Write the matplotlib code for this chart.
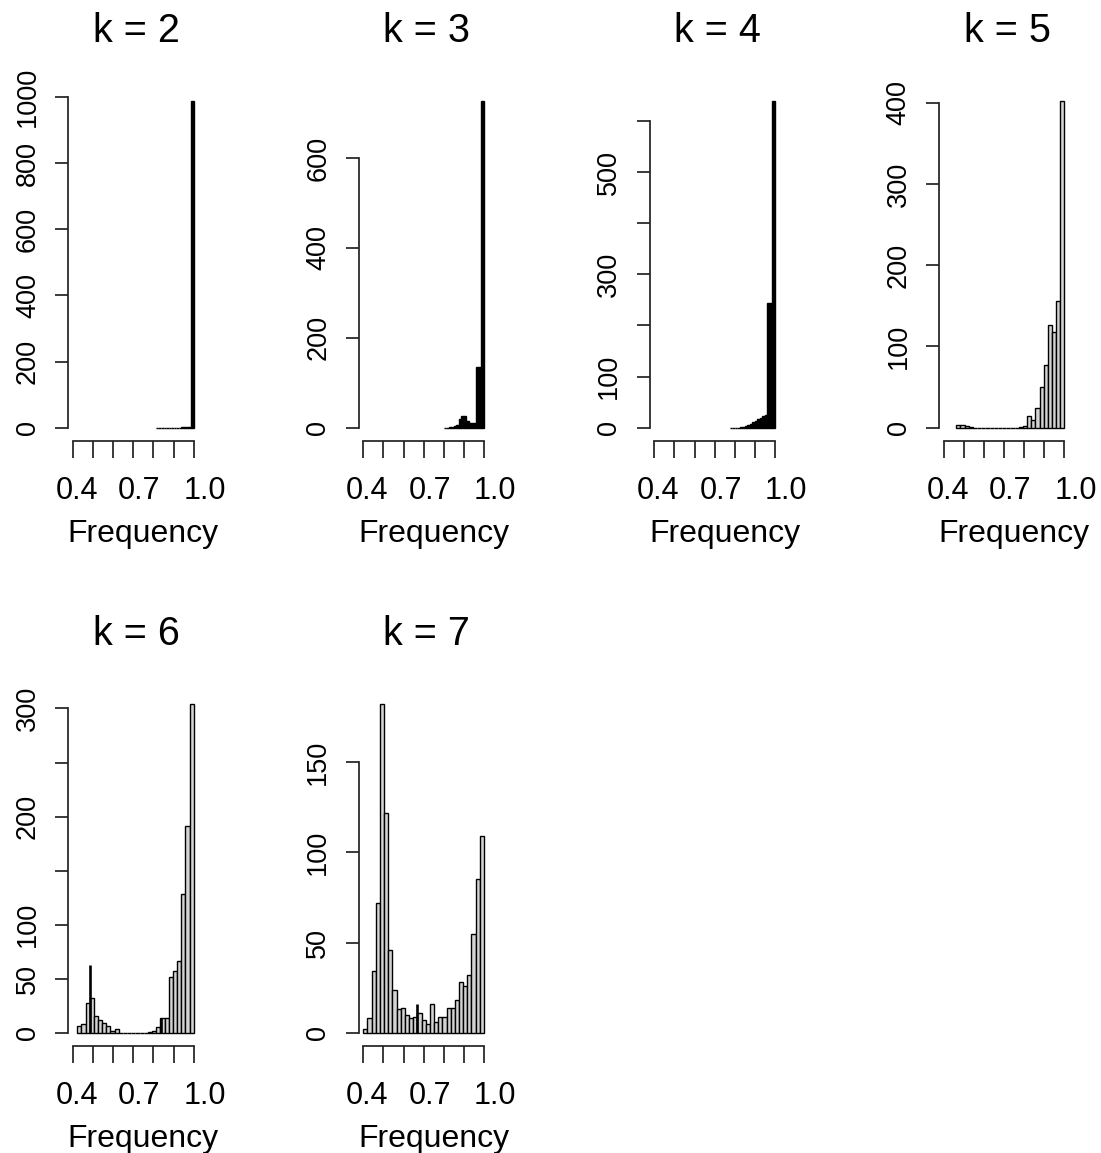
import numpy as np
import matplotlib
matplotlib.use("Agg")
import matplotlib.pyplot as plt
from matplotlib.transforms import ScaledTranslation

plt.rcParams['font.family'] = ['Liberation Sans', 'DejaVu Sans']

# ---------------- data ----------------
titles = ['k = 2', 'k = 3', 'k = 4', 'k = 5', 'k = 6', 'k = 7']
x_label = 'Frequency'

fine_width = 0.0125          # narrow bins used for k = 2, 3, 4
coarse_width = 0.6 / 29      # bins used for k = 5, 6, 7

k2_first_edge = 0.8125
k2_counts = [0, 0, 0, 0, 0, 0, 0, 0, 0, 0, 1, 1, 2, 3, 988]

k3_first_edge = 0.8
k3_counts = [0, 0, 1, 1, 4, 7, 20, 26, 26, 14, 11, 10, 10, 135, 135, 727]

k4_first_edge = 0.775
k4_counts = [0, 0, 0, 0, 1, 1, 3, 5, 8, 11, 14, 17, 20, 23, 25, 244, 244, 639]

k5_first_edge = 0.4 + 3 * coarse_width
k5_counts = [3, 3, 2, 1, 0, 0, 0, 0, 0, 0, 0, 0, 0, 0, 0, 1, 2,
             14, 10, 24, 50, 77, 126, 118, 156, 402]

k6_first_edge = 0.4 + 1 * coarse_width
k6_counts = [6, 8, 28, 32, 16, 12, 9, 6, 2, 4, 0, 0, 0, 0, 0, 0, 0,
             1, 2, 5, 14, 14, 52, 57, 66, 128, 191, 304]
k6_spike_x = [0.486, 0.836]
k6_spike_h = [63, 14]

k7_first_edge = 0.4
k7_counts = [2, 8, 34, 72, 182, 122, 46, 24, 13, 14, 10, 8, 9, 11, 7, 5, 16,
             6, 9, 9, 14, 14, 18, 28, 26, 32, 55, 85, 109]
k7_spike_x = [0.669]
k7_spike_h = [16]

x_ticks = [0.4, 0.5, 0.6, 0.7, 0.8, 0.9, 1.0]
x_tick_labels = ['0.4', '', '', '0.7', '', '', '1.0']

k2_yticks = [0, 200, 400, 600, 800, 1000]
k2_ylabels = ['0', '200', '400', '600', '800', '1000']
k3_yticks = [0, 200, 400, 600]
k3_ylabels = ['0', '200', '400', '600']
k4_yticks = [0, 100, 200, 300, 400, 500, 600]
k4_ylabels = ['0', '100', '', '300', '', '500', '']
k5_yticks = [0, 100, 200, 300, 400]
k5_ylabels = ['0', '100', '200', '300', '400']
k6_yticks = [0, 50, 100, 150, 200, 250, 300]
k6_ylabels = ['0', '50', '100', '', '200', '', '300']
k7_yticks = [0, 50, 100, 150]
k7_ylabels = ['0', '50', '100', '150']

panels = [
    dict(title=titles[0], lo=k2_first_edge, w=fine_width, counts=k2_counts,
         sx=[], sh=[], yt=k2_yticks, yl=k2_ylabels, fc='black'),
    dict(title=titles[1], lo=k3_first_edge, w=fine_width, counts=k3_counts,
         sx=[], sh=[], yt=k3_yticks, yl=k3_ylabels, fc='black'),
    dict(title=titles[2], lo=k4_first_edge, w=fine_width, counts=k4_counts,
         sx=[], sh=[], yt=k4_yticks, yl=k4_ylabels, fc='black'),
    dict(title=titles[3], lo=k5_first_edge, w=coarse_width, counts=k5_counts,
         sx=[], sh=[], yt=k5_yticks, yl=k5_ylabels, fc='#D3D3D3'),
    dict(title=titles[4], lo=k6_first_edge, w=coarse_width, counts=k6_counts,
         sx=k6_spike_x, sh=k6_spike_h, yt=k6_yticks, yl=k6_ylabels, fc='#D3D3D3'),
    dict(title=titles[5], lo=k7_first_edge, w=coarse_width, counts=k7_counts,
         sx=k7_spike_x, sh=k7_spike_h, yt=k7_yticks, yl=k7_ylabels, fc='#D3D3D3'),
]

# ---------------- layout (pixels) ----------------
W, H, DPI = 1101, 1153, 100
col_left = [68.2, 358.5, 649.5, 939.0]
col_w = 130.3
row_top = [88.0, 691.0]
row_h = [352.8, 355.0]
grid_pos = [(0, 0), (0, 1), (0, 2), (0, 3), (1, 0), (1, 1)]

fig = plt.figure(figsize=(W / DPI, H / DPI), dpi=DPI)
fig.patch.set_facecolor('white')

px2pt = 72.0 / DPI
xlab_offsets_px = [4, 6, 11]
axis_lw = 1.25

for p, (r, c) in zip(panels, grid_pos):
    l, t, h = col_left[c], row_top[r], row_h[r]
    ax = fig.add_axes([l / W, 1 - (t + h) / H, col_w / W, h / H])
    counts = np.asarray(p['counts'], dtype=float)
    edges = p['lo'] + p['w'] * np.arange(len(counts))
    ax.bar(edges, counts, width=p['w'], align='edge', facecolor=p['fc'],
           edgecolor='black', linewidth=1.0)
    if p['sx']:
        ax.vlines(p['sx'], 0, p['sh'], color='black', linewidth=1.9)
    m = counts.max()
    ax.set_xlim(0.376, 1.024)
    ax.set_ylim(-0.04 * m, 1.04 * m)

    for s in ['top', 'right']:
        ax.spines[s].set_visible(False)
    ax.spines['left'].set_bounds(p['yt'][0], p['yt'][-1])
    ax.spines['bottom'].set_bounds(0.4, 1.0)
    for s in ['left', 'bottom']:
        ax.spines[s].set_linewidth(axis_lw)
        ax.spines[s].set_color('#222222')

    ax.set_xticks(x_ticks)
    ax.set_xticklabels(x_tick_labels, fontsize=22)
    ax.set_yticks(p['yt'])
    ax.set_yticklabels(p['yl'], fontsize=19.5, rotation=90, va='center', ha='right')
    ax.tick_params(axis='x', length=16.7 * px2pt, width=axis_lw, color='#222222', pad=13.5)
    ax.tick_params(axis='y', length=13.3 * px2pt, width=axis_lw, color='#222222', pad=10)

    labs = [lb for lb in ax.get_xticklabels() if lb.get_text()]
    for lb, dx in zip(labs, xlab_offsets_px):
        lb.set_transform(lb.get_transform() +
                         ScaledTranslation(dx / DPI, 0, fig.dpi_scale_trans))

    ax.set_xlabel(x_label, fontsize=23)
    ax.xaxis.set_label_coords(0.5 + 10 / col_w, -100.9 / h)
    ax.xaxis.label.set_va('baseline')

    ax.text(0.5 + 3 / col_w, 1 + 46.3 / h, p['title'], transform=ax.transAxes,
            ha='center', va='baseline', fontsize=28.5)

fig.savefig('out.png', dpi=DPI, facecolor='white')
